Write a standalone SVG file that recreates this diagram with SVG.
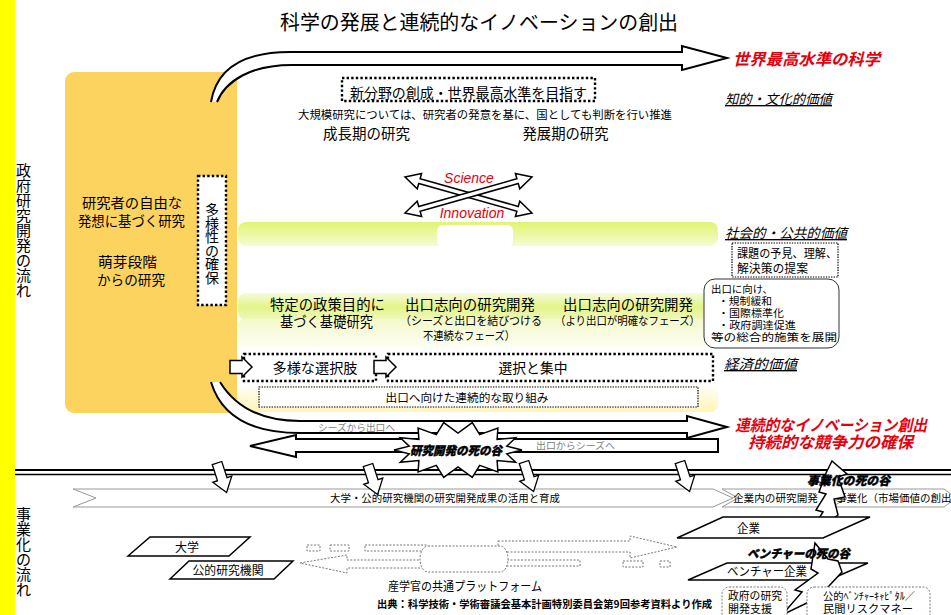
<svg xmlns="http://www.w3.org/2000/svg" width="951" height="615" viewBox="0 0 951 615">
<defs>
<style>
text { font-family: "Noto Sans CJK JP", "Noto Sans", sans-serif; fill:#000; }
.c { text-anchor: middle; }
.red { fill:#E6000E; font-weight:bold; font-style:italic; }
.val { font-style:italic; text-decoration:underline; font-size:13.5px; }
.dot { fill:#fff; stroke:#000; stroke-width:2.4; stroke-dasharray:2.4 2.2; }
.tdot { fill:#fff; stroke:#000; stroke-width:1.2; stroke-dasharray:1.4 1.2; }
.gdot { fill:#fff; stroke:#777; stroke-width:1; stroke-dasharray:2 1.5; }
.blk { fill:#fff; stroke:#000; stroke-width:1.5; }
.chev { fill:#fff; stroke:#999; stroke-width:1; }
.dv { font-weight:900; font-style:italic; stroke:#000; stroke-width:0.4; }
.gt { fill:#808080; font-size:9.5px; }
.sci { fill:#E6000E; font-family:"Liberation Sans", Arial, sans-serif; font-style:italic; font-size:14px; text-anchor:middle; }
.pl { font-size:10px; }
</style>
<linearGradient id="gA" x1="0" y1="0" x2="0" y2="1"><stop offset="0" stop-color="#E2F472"/><stop offset="1" stop-color="#F6FBD2"/></linearGradient>
<linearGradient id="gB" x1="0" y1="0" x2="0" y2="1"><stop offset="0" stop-color="#F6FBDC"/><stop offset="0.5" stop-color="#E3F488"/><stop offset="1" stop-color="#EFF7BE"/></linearGradient>
<linearGradient id="gC" x1="0" y1="0" x2="0" y2="1"><stop offset="0" stop-color="#F3F9CA"/><stop offset="1" stop-color="#FDFEF2"/></linearGradient>
<linearGradient id="gD" x1="0" y1="0" x2="0" y2="1"><stop offset="0" stop-color="#FFFEF4"/><stop offset="1" stop-color="#FFF5B6"/></linearGradient>
<path id="darr" d="M-5,0 L5,0 L5,17 L10,17 L0,31 L-10,17 L-5,17 Z"/>
<path id="rarr" d="M0,-6.5 L12,-6.5 L12,-10 L22,0 L12,10 L12,6.5 L0,6.5 Z"/>
<path id="xarr" d="M-66,0 L-51,-8 L-51,-2.5 L51,-2.5 L51,-8 L66,0 L51,8 L51,2.5 L-51,2.5 L-51,8 Z"/>
</defs>

<rect x="0" y="0" width="951" height="615" fill="#fff"/>
<rect x="0" y="0" width="15" height="615" fill="#FFFF00"/>

<g id="label-gov">
<text class="c" font-size="15" x="23.5 23.5 23.5 23.5 23.5 23.5 23.5 23.5 23.5" y="176 191 206 221 236 251 266 281 296">政府研究開発の流れ</text>
</g>
<g id="label-biz">
<text class="c" font-size="15" x="23.5 23.5 23.5 23.5 23.5 23.5" y="520 535 550 565 580 595">事業化の流れ</text>
</g>

<g id="title">
<text class="c" x="479" y="30" font-size="20" textLength="398" lengthAdjust="spacingAndGlyphs">科学の発展と連続的なイノベーションの創出</text>
</g>

<g id="bands">
<rect x="238" y="222" width="480" height="24" rx="8" fill="url(#gA)"/>
<rect x="437" y="225" width="76" height="22" rx="6" fill="#fff"/>
<rect x="238" y="293" width="480" height="27" rx="8" fill="url(#gB)"/>
<rect x="238" y="319" width="480" height="28" rx="6" fill="url(#gC)"/>
<rect x="238" y="386" width="480" height="26" rx="8" fill="url(#gD)"/>
</g>

<g id="seed-research">
<rect x="65" y="72" width="172" height="341" rx="9" fill="#FDD35F"/>
<text class="c" x="132" y="208" font-size="14" textLength="100" lengthAdjust="spacingAndGlyphs">研究者の自由な</text>
<text class="c" x="131.5" y="226" font-size="14" textLength="107" lengthAdjust="spacingAndGlyphs">発想に基づく研究</text>
<text class="c" x="127.5" y="267" font-size="14" textLength="59" lengthAdjust="spacingAndGlyphs">萌芽段階</text>
<text class="c" x="131" y="285" font-size="14" textLength="68" lengthAdjust="spacingAndGlyphs">からの研究</text>
</g>
<g id="diversity">
<rect x="198" y="176" width="28" height="129" class="dot"/>
<text class="c" font-size="14" x="212 212 212 212 212 212" y="215 228.5 242 255.5 269 282.5">多様性の確保</text>
</g>

<g id="connectors">
<path d="M211,102 C216,72 238,52 290,52 L682,52 L682,46 L727,58 L682,70 L682,65 L292,65 C252,65 226,80 217,102" fill="#fff" stroke="#000" stroke-width="2" stroke-linejoin="miter"/>
<path d="M211,382 C220,412 245,433 300,433 L687,433 L687,438 L727,427 L687,416 L687,421 L300,421 C262,421 236,408 220,382" fill="#fff" stroke="#000" stroke-width="2" stroke-linejoin="miter"/>
<path d="M250,446 L296,435 L296,439 L718,439 L718,452 L296,452 L296,457 Z" fill="#fff" stroke="#000" stroke-width="2" stroke-linejoin="miter"/>
<g transform="translate(468.5,195)" fill="#fff" stroke="#000" stroke-width="1.5">
<use href="#xarr" transform="rotate(15.8)"/>
<use href="#xarr" transform="rotate(-15.8)"/>
</g>
</g>
<text class="gt" x="356.5" y="430.5" text-anchor="middle" textLength="77" lengthAdjust="spacingAndGlyphs">シーズから出口へ</text>
<text class="gt" x="575.5" y="449" text-anchor="middle" textLength="79" lengthAdjust="spacingAndGlyphs">出口からシーズへ</text>

<text class="sci" x="469" y="183">Science</text>
<text class="sci" x="472" y="218">Innovation</text>

<g id="world-science">
<text class="red" x="733" y="65" font-size="16" textLength="147" lengthAdjust="spacingAndGlyphs">世界最高水準の科学</text>
</g>
<g id="new-field">
<rect x="342" y="78" width="253" height="23" class="dot"/>
<text class="c" x="468.5" y="98" font-size="14" textLength="237" lengthAdjust="spacingAndGlyphs">新分野の創成・世界最高水準を目指す</text>
</g>
<g id="large-scale">
<text class="c" x="485" y="119" font-size="11.5" textLength="374" lengthAdjust="spacingAndGlyphs">大規模研究については、研究者の発意を基に、国としても判断を行い推進</text>
</g>
<g id="growth"><text class="c" x="366.5" y="139" font-size="14.5" textLength="87" lengthAdjust="spacingAndGlyphs">成長期の研究</text></g>
<g id="develop"><text class="c" x="565.5" y="139" font-size="14.5" textLength="86" lengthAdjust="spacingAndGlyphs">発展期の研究</text></g>

<g id="value-intellectual"><text class="val" x="725" y="104" textLength="107" lengthAdjust="spacingAndGlyphs">知的・文化的価値</text></g>
<g id="value-social"><text class="val" x="725" y="238" textLength="122" lengthAdjust="spacingAndGlyphs">社会的・公共的価値</text></g>
<g id="value-economic"><text class="val" x="724" y="369" font-size="14" textLength="73" lengthAdjust="spacingAndGlyphs">経済的価値</text></g>

<g id="issues">
<rect x="732" y="243" width="106" height="34" class="tdot"/>
<text x="737" y="258" font-size="12" textLength="100" lengthAdjust="spacingAndGlyphs">課題の予見、理解、</text>
<text x="737" y="273" font-size="12" textLength="71" lengthAdjust="spacingAndGlyphs">解決策の提案</text>
</g>
<g id="policies">
<rect x="704" y="279" width="135" height="69" rx="11" fill="#fff" stroke="#333" stroke-width="1"/>
<text class="pl" x="711" y="293" textLength="62" lengthAdjust="spacingAndGlyphs">出口に向け、</text>
<text class="pl" x="718" y="305" textLength="54" lengthAdjust="spacingAndGlyphs">・規制緩和</text>
<text class="pl" x="718" y="317" textLength="66" lengthAdjust="spacingAndGlyphs">・国際標準化</text>
<text class="pl" x="718" y="329" textLength="78" lengthAdjust="spacingAndGlyphs">・政府調達促進</text>
<text class="pl" x="711" y="341" textLength="126" lengthAdjust="spacingAndGlyphs">等の総合的施策を展開</text>
</g>

<g id="policy-basic">
<text class="c" x="327.5" y="310" font-size="14.5" textLength="115" lengthAdjust="spacingAndGlyphs">特定の政策目的に</text>
<text class="c" x="326.5" y="327" font-size="14.5" textLength="93" lengthAdjust="spacingAndGlyphs">基づく基礎研究</text>
</g>
<g id="exit-rd-1">
<text class="c" x="470" y="310" font-size="14.5" textLength="130" lengthAdjust="spacingAndGlyphs">出口志向の研究開発</text>
<text class="c" x="471" y="324.5" font-size="11.5" textLength="142" lengthAdjust="spacingAndGlyphs">（シーズと出口を結びつける</text>
<text class="c" x="469" y="339.5" font-size="11.5" textLength="92" lengthAdjust="spacingAndGlyphs">不連続なフェーズ）</text>
</g>
<g id="exit-rd-2">
<text class="c" x="628" y="310" font-size="14.5" textLength="130" lengthAdjust="spacingAndGlyphs">出口志向の研究開発</text>
<text class="c" x="627.5" y="324.5" font-size="11.5" textLength="145" lengthAdjust="spacingAndGlyphs">（より出口が明確なフェーズ）</text>
</g>

<g id="options">
<rect x="244" y="354" width="132" height="27" class="dot" fill-opacity="0.6"/>
<text class="c" x="315" y="373" font-size="14" textLength="85" lengthAdjust="spacingAndGlyphs">多様な選択肢</text>
</g>
<g id="focus">
<rect x="388" y="354" width="325" height="27" class="dot" fill-opacity="0.6"/>
<text class="c" x="533" y="373" font-size="14" textLength="69" lengthAdjust="spacingAndGlyphs">選択と集中</text>
</g>
<g id="block-arrows" fill="#fff" stroke="#000" stroke-width="1.5">
<use href="#rarr" transform="translate(230,367)"/>
<use href="#rarr" transform="translate(374,367)"/>
</g>
<g id="continuous">
<rect x="259" y="387" width="439" height="20" class="tdot"/>
<text class="c" x="467" y="401.5" font-size="11.5" textLength="163" lengthAdjust="spacingAndGlyphs">出口へ向けた連続的な取り組み</text>
</g>

<g id="innovation-result">
<text class="red c" x="831" y="431" font-size="16" textLength="192" lengthAdjust="spacingAndGlyphs">連続的なイノベーション創出</text>
<text class="red c" x="830.5" y="448" font-size="16" textLength="165" lengthAdjust="spacingAndGlyphs">持続的な競争力の確保</text>
</g>

<line x1="15" y1="470" x2="951" y2="470" stroke="#000" stroke-width="2.2"/>
<line x1="15" y1="474.5" x2="951" y2="474.5" stroke="#000" stroke-width="1.3"/>

<g id="valley-rd">
<polygon class="blk" stroke-width="1.2" points="522,450 506.8,453.8 515.7,462.2 497.1,460.6 497.9,471.9 479.7,465.3 472.3,477.3 458,467 443.7,477.3 436.3,465.3 418.1,471.9 418.9,460.6 400.3,462.2 409.2,453.8 394,450 409.2,446.2 400.3,437.8 418.9,439.4 418.1,428.1 436.3,434.7 443.7,422.7 458,433 472.3,422.7 479.7,434.7 497.9,428.1 497.1,439.4 515.7,437.8 506.8,446.2"/>
<text class="c dv" x="456" y="455" font-size="12" textLength="92" lengthAdjust="spacingAndGlyphs">研究開発の死の谷</text>
</g>

<g id="bar-univ">
<polygon class="chev" points="73,489 713,489 733,498 713,507 73,507 96,498"/>
<text class="c" x="445" y="502" font-size="10.5" textLength="230" lengthAdjust="spacingAndGlyphs">大学・公的研究機関の研究開発成果の活用と育成</text>
</g>
<g id="bar-corp">
<polygon class="chev" points="722,489 826,489 840,498 826,507 722,507 738,498"/>
<text x="733" y="502" font-size="10.5" textLength="85" lengthAdjust="spacingAndGlyphs">企業内の研究開発</text>
</g>
<g id="bar-market">
<polygon class="chev" points="832,489 944,489 956,498 944,507 832,507 847,498"/>
<text x="836" y="502" font-size="10.5">事業化（市場価値の創出</text>
</g>

<g id="down-arrows" fill="#fff" stroke="#000" stroke-width="1.3">
<use href="#darr" transform="translate(217,463) rotate(-18)"/>
<use href="#darr" transform="translate(368,465) rotate(-18)"/>
<use href="#darr" transform="translate(524,462) rotate(-18)"/>
<use href="#darr" transform="translate(680,462) rotate(-18)"/>
</g>

<g id="valley-biz">
<polygon class="blk" stroke-width="1.3" points="832,461 847,474 838,477 845,497 834,499 838,515 808,536 823,512 816,510 826,494 819,492 826,473"/>
<text class="dv" x="807" y="485" font-size="12" textLength="83" lengthAdjust="spacingAndGlyphs">事業化の死の谷</text>
</g>

<g id="univ">
<polygon class="blk" stroke-width="1.3" points="128,556 150,537 250,537 229,556"/>
<text class="c" x="187" y="552" font-size="12">大学</text>
</g>
<g id="public-inst">
<polygon class="blk" stroke-width="1.3" points="170,579 189,561 293,561 274,579"/>
<text class="c" x="228" y="575" font-size="12" textLength="71" lengthAdjust="spacingAndGlyphs">公的研究機関</text>
</g>

<g id="platform">
<rect x="307" y="545" width="13" height="6" class="gdot"/>
<rect x="330" y="545" width="19" height="6" class="gdot"/>
<rect x="365" y="545" width="62" height="6" class="gdot"/>
<path d="M300,563 L347,555 L347,560 L425,560 L425,568 L347,568 L347,573 Z" class="gdot"/>
<path d="M498,541 L630,541 L630,536 L677,547 L630,558 L630,552 L498,552 Z" class="gdot"/>
<rect x="500" y="560" width="80" height="6" class="gdot"/>
<rect x="623" y="561" width="20" height="6" class="gdot"/>
<rect x="660" y="561" width="10" height="6" class="gdot"/>
<path d="M428,546 L500,546 A8,13 0 0 1 500,572 L428,572 A8,13 0 0 1 428,546 Z" class="gdot"/>
<text class="c" x="465" y="591" font-size="12" textLength="154" lengthAdjust="spacingAndGlyphs">産学官の共通プラットフォーム</text>
</g>

<g id="source">
<text class="c" x="544.5" y="608" font-size="10.5" font-weight="bold" textLength="335" lengthAdjust="spacingAndGlyphs">出典：科学技術・学術審議会基本計画特別委員会第9回参考資料より作成</text>
</g>

<g id="corp">
<polygon class="blk" stroke-width="1.3" points="677,538 723,517 870,517 823,538"/>
<text x="737" y="533" font-size="12" textLength="23" lengthAdjust="spacingAndGlyphs">企業</text>
</g>
<g id="venture">
<polygon class="blk" stroke-width="1.3" points="688,580 727,563 868,563 829,580"/>
<text x="727" y="576" font-size="12" textLength="80" lengthAdjust="spacingAndGlyphs">ベンチャー企業</text>
</g>
<g id="valley-venture">
<polygon class="blk" stroke-width="1.3" points="815,543 828,559 838,561 842,572 828,587 834,590 782,615 802,592 795,590 818,573 811,569"/>
<text class="dv" x="747" y="558" font-size="12" textLength="103" lengthAdjust="spacingAndGlyphs">ベンチャーの死の谷</text>
</g>
<g id="gov-support">
<rect x="722" y="587" width="65" height="34" rx="7" class="gdot"/>
<text class="c" x="755" y="600" font-size="11" textLength="54" lengthAdjust="spacingAndGlyphs">政府の研究</text>
<text class="c" x="750" y="613" font-size="11" textLength="44" lengthAdjust="spacingAndGlyphs">開発支援</text>
</g>
<g id="venture-capital">
<rect x="807" y="587" width="123" height="34" rx="7" class="gdot"/>
<text class="c" x="869" y="600" font-size="10.5" textLength="92" lengthAdjust="spacingAndGlyphs">公的ﾍﾞﾝﾁｬｰｷｬﾋﾟﾀﾙ／</text>
<text class="c" x="868" y="613" font-size="11" textLength="90" lengthAdjust="spacingAndGlyphs">民間リスクマネー</text>
</g>
</svg>
